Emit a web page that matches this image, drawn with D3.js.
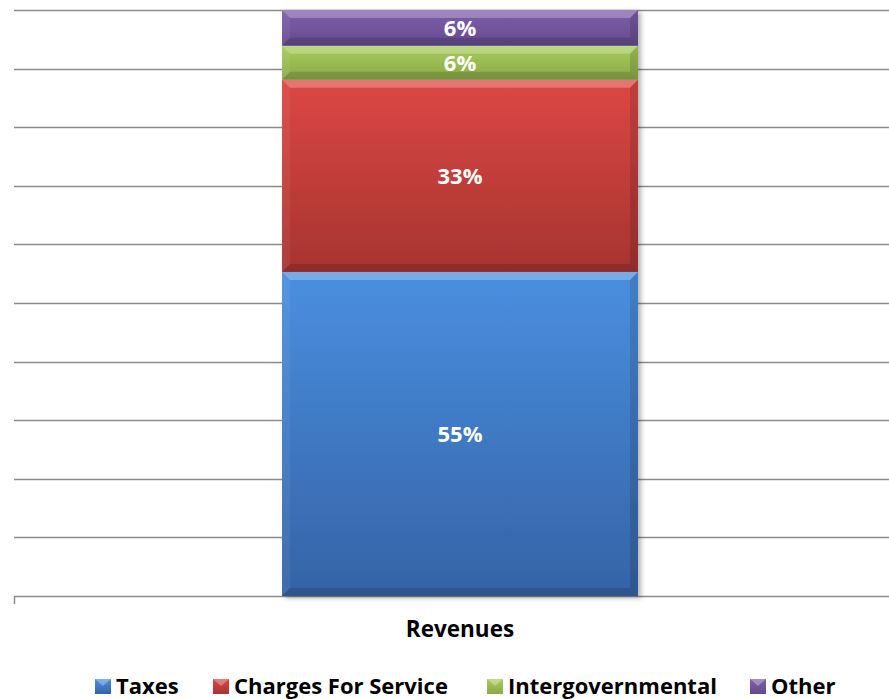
<!DOCTYPE html>
<html>
<head>
<meta charset="utf-8">
<script src="https://cdn.jsdelivr.net/npm/d3@7"></script>
<style>
  body { margin: 0; background: #fff; }
  svg { display: block; font-family: "Open Sans", Lato, sans-serif; }
</style>
</head>
<body>
<div id="chart"></div>
<script>
// data
const categories = ['Revenues'];
const seriesNames = ['Taxes', 'Charges For Service', 'Intergovernmental', 'Other'];
const seriesValues = [55.3, 32.8, 5.8, 6.1];
const seriesLabels = ['55%', '33%', '6%', '6%'];
const yTicks = [0, 10, 20, 30, 40, 50, 60, 70, 80, 90, 100];

const colors = {
  'Taxes': ['#4a8fe0', '#3563a6'],
  'Charges For Service': ['#dc4744', '#a63431'],
  'Intergovernmental': ['#a8cc5c', '#8aaa46'],
  'Other': ['#7e5fac', '#654a8d']
};

const W = 889, H = 699;
const margin = { top: 10, right: -17, bottom: 103, left: 14 };

const svg = d3.select('#chart').append('svg')
  .attr('width', W)
  .attr('height', H);

const defs = svg.append('defs');
seriesNames.forEach((name, i) => {
  const g = defs.append('linearGradient')
    .attr('id', 'grad' + i)
    .attr('x1', 0).attr('y1', 0).attr('x2', 0).attr('y2', 1);
  g.append('stop').attr('offset', '0%').attr('stop-color', colors[name][0]);
  g.append('stop').attr('offset', '100%').attr('stop-color', colors[name][1]);
});
const shadow = defs.append('filter').attr('id', 'shadow')
  .attr('x', '-10%').attr('y', '-10%').attr('width', '120%').attr('height', '120%');
shadow.append('feDropShadow')
  .attr('dx', 3).attr('dy', 2).attr('stdDeviation', 2.5)
  .attr('flood-color', '#000').attr('flood-opacity', 0.3);

const x = d3.scaleBand()
  .domain(categories)
  .range([margin.left, W - margin.right])
  .paddingInner(0)
  .paddingOuter(0.753);

const y = d3.scaleLinear()
  .domain([0, 100])
  .range([H - margin.bottom, margin.top]);

// gridlines
svg.append('g')
  .selectAll('line')
  .data(yTicks.slice(1))
  .enter()
  .append('line')
    .attr('x1', margin.left)
    .attr('x2', W)
    .attr('y1', d => Math.round(y(d)) + 0.5)
    .attr('y2', d => Math.round(y(d)) + 0.5)
    .attr('stroke', '#8c8c8c')
    .attr('stroke-width', 1.5);

// x axis line with left tick
svg.append('line')
  .attr('x1', margin.left).attr('x2', W)
  .attr('y1', Math.round(y(0)) + 0.5).attr('y2', Math.round(y(0)) + 0.5)
  .attr('stroke', '#8c8c8c').attr('stroke-width', 1.5);
svg.append('line')
  .attr('x1', margin.left + 0.5).attr('x2', margin.left + 0.5)
  .attr('y1', y(0)).attr('y2', y(0) + 8)
  .attr('stroke', '#8c8c8c').attr('stroke-width', 1.5);

// stack
const row = { cat: categories[0] };
seriesNames.forEach((n, i) => { row[n] = seriesValues[i]; });
const stacked = d3.stack().keys(seriesNames)([row]);

const bw = x.bandwidth();
const bx = x(categories[0]);
const bev = 8;

const segs = svg.append('g').attr('filter', 'url(#shadow)')
  .selectAll('.seg')
  .data(stacked)
  .enter()
  .append('g')
  .attr('class', 'seg');

segs.append('rect')
  .attr('x', bx)
  .attr('y', d => y(d[0][1]))
  .attr('width', bw)
  .attr('height', d => y(d[0][0]) - y(d[0][1]))
  .attr('fill', (d, i) => `url(#grad${i})`);

// bevel edges
segs.append('path')
  .attr('d', d => {
    const t = y(d[0][1]);
    return `M${bx},${t}L${bx + bw},${t}L${bx + bw - bev},${t + bev}L${bx + bev},${t + bev}Z`;
  })
  .attr('fill', '#fff').attr('opacity', 0.25);
segs.append('path')
  .attr('d', d => {
    const t = y(d[0][1]), b = y(d[0][0]);
    return `M${bx},${t}L${bx + bev},${t + bev}L${bx + bev},${b - bev}L${bx},${b}Z`;
  })
  .attr('fill', '#fff').attr('opacity', 0.06);
segs.append('path')
  .attr('d', d => {
    const t = y(d[0][1]), b = y(d[0][0]);
    return `M${bx + bw},${t}L${bx + bw - bev},${t + bev}L${bx + bw - bev},${b - bev}L${bx + bw},${b}Z`;
  })
  .attr('fill', '#000').attr('opacity', 0.12);
segs.append('path')
  .attr('d', d => {
    const b = y(d[0][0]);
    return `M${bx},${b}L${bx + bw},${b}L${bx + bw - bev},${b - bev}L${bx + bev},${b - bev}Z`;
  })
  .attr('fill', '#000').attr('opacity', 0.14);

// value labels
svg.append('g')
  .selectAll('text')
  .data(stacked)
  .enter()
  .append('text')
    .attr('x', bx + bw / 2)
    .attr('y', d => (y(d[0][0]) + y(d[0][1])) / 2)
    .attr('dy', '0.36em')
    .attr('text-anchor', 'middle')
    .attr('fill', '#fff')
    .attr('font-weight', 'bold')
    .attr('font-size', 22)
    .text((d, i) => seriesLabels[i]);

// category label
svg.append('text')
  .attr('x', bx + bw / 2)
  .attr('y', 637)
  .attr('text-anchor', 'middle')
  .attr('font-weight', 'bold')
  .attr('font-size', 22.5)
  .attr('fill', '#000')
  .text(categories[0]);

// legend
const legendX = [95, 213, 487, 750];
const legend = svg.append('g')
  .selectAll('.legend-item')
  .data(seriesNames)
  .enter()
  .append('g')
  .attr('class', 'legend-item')
  .attr('transform', (d, i) => `translate(${legendX[i]},679)`);

legend.append('rect')
  .attr('width', 16).attr('height', 15)
  .attr('fill', (d, i) => `url(#grad${i})`);
legend.append('path')
  .attr('d', 'M0,0L16,0L8,7Z')
  .attr('fill', '#fff').attr('opacity', 0.3);
legend.append('text')
  .attr('x', 21)
  .attr('y', 15)
  .attr('font-weight', 'bold')
  .attr('font-size', 22)
  .attr('fill', '#000')
  .text(d => d);
</script>
</body>
</html>
